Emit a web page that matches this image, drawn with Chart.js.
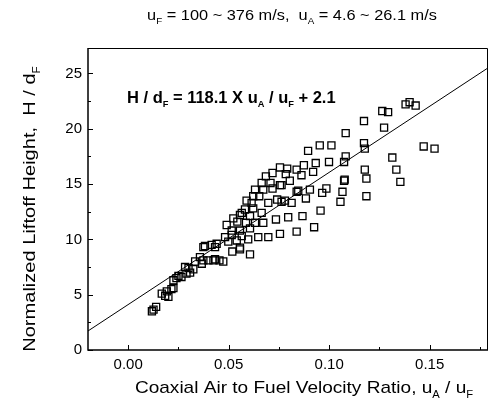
<!DOCTYPE html>
<html>
<head>
<meta charset="utf-8">
<script src="https://cdn.jsdelivr.net/npm/chart.js@4.4.0/dist/chart.umd.min.js"></script>
<style>
  html, body { margin: 0; padding: 0; background: #fff; }
  canvas { display: block; }
</style>
</head>
<body>
<canvas id="chart" width="489" height="416"></canvas>
<script>
// measured points: coaxial air to fuel velocity ratio vs normalized liftoff height
const ratioX = [
  0.0118, 0.0126, 0.0139,
  0.0167, 0.0184, 0.0192, 0.0200, 0.0215, 0.0225,
  0.0225, 0.0240, 0.0250, 0.0265, 0.0283, 0.0290, 0.0300, 0.0308, 0.0324, 0.0333,
  0.0357, 0.0366, 0.0374, 0.0399, 0.0424, 0.0432, 0.0454, 0.0473, 0.0518, 0.0556, 0.0606,
  0.0374, 0.0382, 0.0415, 0.0440, 0.0432, 0.0482, 0.0498, 0.0540, 0.0556, 0.0515,
  0.0565, 0.0515, 0.0556, 0.0597, 0.0606, 0.0647, 0.0697, 0.0755, 0.0838, 0.0925,
  0.0490, 0.0523, 0.0543, 0.0586, 0.0631, 0.0672, 0.0735, 0.0796, 0.0867, 0.0957,
  0.0556, 0.0565, 0.0606, 0.0581, 0.0622, 0.0664, 0.0614, 0.0697, 0.0741, 0.0763,
  0.0780, 0.0813, 0.0884, 0.0965, 0.0986, 0.0904, 0.0846, 0.0838, 0.1056, 0.1066,
  0.1074, 0.1185, 0.1185,
  0.0589, 0.0622, 0.0652, 0.0631, 0.0672, 0.0718, 0.0664, 0.0708, 0.0755, 0.0763,
  0.0804, 0.0862, 0.0920, 0.0685, 0.0718, 0.0784, 0.0755, 0.0791, 0.0838, 0.0874,
  0.0933, 0.0999, 0.1074, 0.1082, 0.0895, 0.0953, 0.1011, 0.1082, 0.1173, 0.1173,
  0.1177, 0.1177, 0.1077,
  0.1264, 0.1293, 0.1380, 0.1400, 0.1430, 0.1273, 0.1470, 0.1524, 0.1314, 0.1334,
  0.1354
];
const heightY = [
  3.50, 3.65, 3.90,
  5.10, 4.90, 5.30, 4.80, 5.50, 5.60,
  6.30, 6.50, 6.70, 6.60, 7.50, 6.90, 7.40, 7.00, 7.30, 8.00,
  8.40, 7.80, 8.10, 8.10, 8.10, 8.20, 8.10, 8.00, 8.90, 9.10, 8.65,
  9.30, 9.40, 9.50, 9.60, 9.30, 10.20, 9.80, 9.90, 9.25, 10.40,
  10.30, 10.80, 10.80, 10.00, 11.00, 10.20, 10.20, 10.50, 10.70, 11.10,
  11.30, 11.90, 11.60, 11.50, 11.50, 11.50, 11.80, 12.00, 12.10, 12.60,
  12.20, 12.40, 12.10, 12.70, 12.80, 12.40, 13.30, 13.30, 13.60, 13.40,
  13.50, 13.30, 13.70, 14.20, 14.60, 14.50, 14.40, 14.30, 13.40, 14.30,
  15.30, 13.90, 15.50,
  13.50, 13.90, 13.90, 14.50, 14.50, 14.60, 15.10, 15.10, 14.90, 14.90,
  15.30, 15.80, 16.10, 15.70, 16.00, 15.90, 16.50, 16.40, 16.30, 16.70,
  16.90, 17.00, 17.00, 17.50, 18.00, 18.50, 18.50, 19.60, 20.70, 18.70,
  18.20, 16.30, 15.40,
  21.60, 21.50, 22.20, 22.40, 22.10, 20.10, 18.40, 18.20, 17.40, 16.30,
  15.20
];

// straight fit line as drawn in the figure
const fitX = [-0.02, 0.179];
const fitY = [1.72, 25.5];

const xTicks = [0, 0.05, 0.10, 0.15];
const yTicks = [0, 5, 10, 15, 20, 25];

const FONT = '"Liberation Sans", Arial, sans-serif';
Chart.defaults.font.family = FONT;
Chart.defaults.color = '#000';

// text with subscripts, optional horizontal stretch (the scan is a bit wide)
function richText(ctx, parts, x, y, size, bold, align, sx) {
  const font = s => (bold ? 'bold ' : '') + s + 'px ' + FONT;
  const subSize = Math.round(size * 0.58);
  sx = sx || 1;
  let total = 0;
  parts.forEach(p => { ctx.font = font(p[1] ? subSize : size); total += ctx.measureText(p[0]).width; });
  ctx.save();
  ctx.translate(align === 'center' ? x - total * sx / 2 : x, y);
  ctx.scale(sx, 1);
  ctx.textAlign = 'left';
  ctx.textBaseline = 'alphabetic';
  let cx = 0;
  parts.forEach(p => {
    ctx.font = font(p[1] ? subSize : size);
    ctx.fillText(p[0], cx, p[1] ? Math.round(size * 0.27) : 0);
    cx += ctx.measureText(p[0]).width;
  });
  ctx.restore();
}

function minors(ticks, min, max) {
  const step = ticks[1] - ticks[0];
  const out = [];
  for (let i = -1; i < ticks.length; i++) {
    const v = (i < 0 ? ticks[0] - step / 2 : ticks[i] + step / 2);
    if (v > min && v < max) out.push(v);
  }
  return out;
}

const framePlugin = {
  id: 'frame',
  afterDraw(chart) {
    const ctx = chart.ctx;
    const a = chart.chartArea;
    const xs = chart.scales.x, ys = chart.scales.y;
    ctx.save();
    ctx.strokeStyle = '#000';
    // frame
    ctx.lineWidth = 1;
    ctx.beginPath();
    ctx.moveTo(a.left, a.top + 0.5);
    ctx.lineTo(a.right - 0.5, a.top + 0.5);
    ctx.lineTo(a.right - 0.5, a.bottom);
    ctx.stroke();
    ctx.lineWidth = 1.5;
    ctx.beginPath();
    ctx.moveTo(a.left, a.top);
    ctx.lineTo(a.left, a.bottom);
    ctx.lineTo(a.right, a.bottom);
    ctx.stroke();
    // inward ticks
    ctx.lineWidth = 1;
    ctx.beginPath();
    xTicks.forEach(v => { const p = Math.round(xs.getPixelForValue(v)) + 0.5; ctx.moveTo(p, a.bottom); ctx.lineTo(p, a.bottom - 5); });
    minors(xTicks, xs.min, xs.max).forEach(v => { const p = Math.round(xs.getPixelForValue(v)) + 0.5; ctx.moveTo(p, a.bottom); ctx.lineTo(p, a.bottom - 3); });
    yTicks.forEach(v => { const p = Math.round(ys.getPixelForValue(v)) + 0.5; ctx.moveTo(a.left, p); ctx.lineTo(a.left + 5, p); });
    minors(yTicks, ys.min, ys.max).forEach(v => { const p = Math.round(ys.getPixelForValue(v)) + 0.5; ctx.moveTo(a.left, p); ctx.lineTo(a.left + 3, p); });
    ctx.stroke();

    ctx.fillStyle = '#000';
    // top note
    richText(ctx, [['u'], ['F', 1], [' = 100 ~ 376 m/s,  u'], ['A', 1], [' = 4.6 ~ 26.1 m/s']], 292, 20, 15, false, 'center', 1.09);
    // equation
    richText(ctx, [['H / d'], ['F', 1], [' = 118.1 X u'], ['A', 1], [' / u'], ['F', 1], [' + 2.1']], 127, 103, 16, true, 'left', 1.03);
    // x title
    richText(ctx, [['Coaxial Air to Fuel Velocity Ratio, u'], ['A', 1], [' / u'], ['F', 1]], 304, 393, 17, false, 'center', 1.12);
    // y title
    ctx.translate(35, 209);
    ctx.rotate(-Math.PI / 2);
    richText(ctx, [['Normalized Liftoff Height,  H / d'], ['F', 1]], 0, 0, 17, false, 'center', 1.18);
    ctx.restore();
  }
};

new Chart(document.getElementById('chart'), {
  type: 'scatter',
  data: {
    datasets: [{
      label: 'data',
      data: ratioX.map((x, i) => ({ x: x, y: heightY[i] })),
      pointStyle: 'rect',
      pointRadius: 5,
      pointHoverRadius: 5,
      borderColor: '#000',
      backgroundColor: 'rgba(255,255,255,0)',
      borderWidth: 1.3
    }, {
      type: 'line',
      label: 'fit',
      data: fitX.map((x, i) => ({ x: x, y: fitY[i] })),
      borderColor: '#000',
      borderWidth: 1,
      pointRadius: 0,
      fill: false
    }]
  },
  options: {
    responsive: false,
    animation: false,
    devicePixelRatio: 1,
    layout: { autoPadding: false, padding: { top: 48, right: 1, left: 0, bottom: 0 } },
    plugins: { legend: { display: false }, tooltip: { enabled: false } },
    scales: {
      x: {
        type: 'linear',
        min: -0.02,
        max: 0.179,
        grid: { display: false, drawTicks: false },
        border: { display: false },
        afterBuildTicks: s => { s.ticks = xTicks.map(v => ({ value: v })); },
        afterFit: s => { s.height = 66; s.paddingLeft = 0; s.paddingRight = 0; },
        ticks: { padding: 6, font: { size: 15 }, callback: v => Number(v).toFixed(2), maxRotation: 0 }
      },
      y: {
        type: 'linear',
        min: 0,
        max: 27.3,
        grid: { display: false, drawTicks: false },
        border: { display: false },
        afterBuildTicks: s => { s.ticks = yTicks.map(v => ({ value: v })); },
        afterFit: s => { s.width = 88; s.paddingTop = 0; s.paddingBottom = 0; },
        ticks: { padding: 6, font: { size: 15 }, callback: v => String(v) }
      }
    }
  },
  plugins: [framePlugin]
});
</script>
</body>
</html>
